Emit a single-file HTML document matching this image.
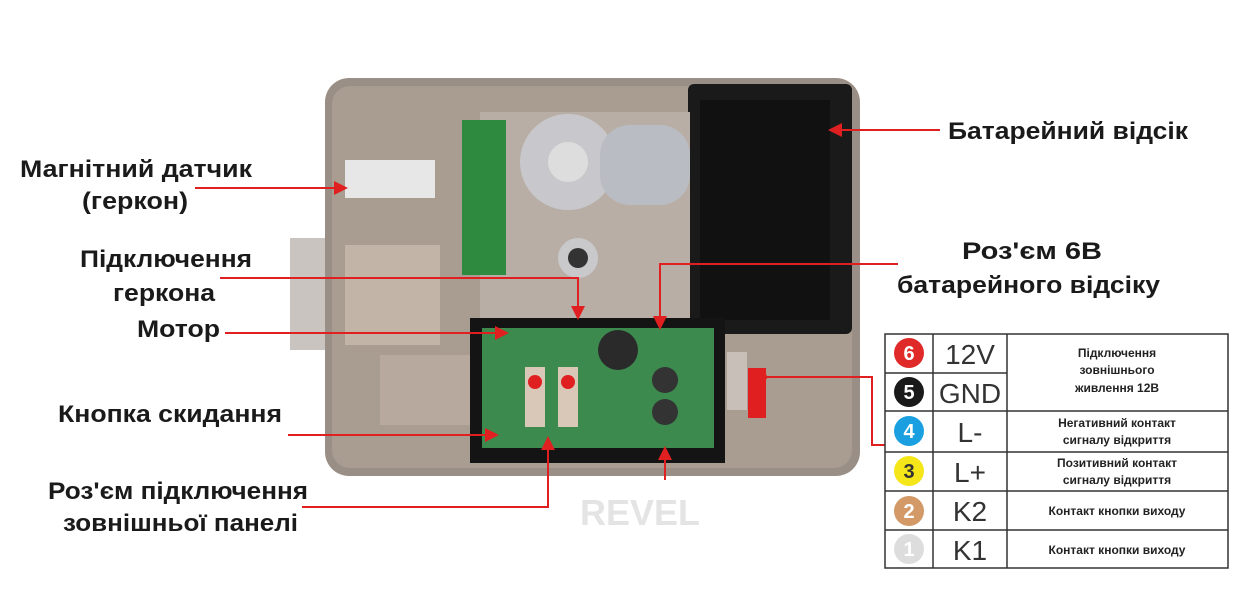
<!DOCTYPE html>
<html><head><meta charset="utf-8"><style>
html,body{margin:0;padding:0;background:#fff;}
svg{display:block;}
.l{font-family:"Liberation Sans",sans-serif;font-weight:bold;font-size:24px;fill:#1a1a1a;}
.t{font-family:"Liberation Sans",sans-serif;font-size:12px;font-weight:bold;fill:#222;}
.b{font-family:"Liberation Sans",sans-serif;font-size:28px;fill:#333;}
.n{font-family:"Liberation Sans",sans-serif;font-size:20px;font-weight:bold;fill:#fff;}
</style></head><body>
<svg width="1251" height="609" viewBox="0 0 1251 609" xmlns="http://www.w3.org/2000/svg">
<defs><marker id="a2" markerWidth="14" markerHeight="14" refX="10" refY="7" orient="auto" markerUnits="userSpaceOnUse"><path d="M0,0 L14,7 L0,14z" fill="#e02020"/></marker></defs>
<rect x="290" y="238" width="44" height="112" fill="#c9c4bf"/>
<rect x="325" y="78" width="535" height="398" rx="24" fill="#9a8f86"/>
<rect x="332" y="86" width="520" height="382" rx="18" fill="#a99d92"/>
<rect x="688" y="84" width="164" height="250" rx="6" fill="#1a1a1a"/>
<rect x="700" y="100" width="130" height="220" fill="#111"/>
<rect x="480" y="112" width="210" height="210" fill="#b8aea5"/>
<circle cx="568" cy="162" r="48" fill="#c8c8cc"/>
<rect x="600" y="125" width="90" height="80" rx="30" fill="#b9bcc2"/>
<circle cx="568" cy="162" r="20" fill="#ddd"/>
<circle cx="578" cy="258" r="20" fill="#c9c9cc"/><circle cx="578" cy="258" r="10" fill="#333"/>
<rect x="462" y="120" width="44" height="155" fill="#2e8a3e"/>
<rect x="345" y="160" width="90" height="38" fill="#e7e7e7"/>
<rect x="345" y="245" width="95" height="100" fill="#c3b4a8"/>
<rect x="380" y="355" width="90" height="70" fill="#b7a99d"/>
<rect x="470" y="318" width="255" height="145" fill="#141414"/>
<rect x="482" y="328" width="232" height="120" fill="#3c8a4e"/>
<circle cx="618" cy="350" r="20" fill="#2a2a2a"/>
<circle cx="665" cy="380" r="13" fill="#333"/><circle cx="665" cy="412" r="13" fill="#333"/>
<rect x="525" y="367" width="20" height="60" fill="#d9c7b8"/><rect x="558" y="367" width="20" height="60" fill="#d9c7b8"/>
<circle cx="535" cy="382" r="7" fill="#e02020"/><circle cx="568" cy="382" r="7" fill="#e02020"/>
<rect x="748" y="368" width="18" height="50" fill="#e02020"/>
<rect x="727" y="352" width="20" height="58" fill="#c8c0b8"/>
<g stroke="#e02020" stroke-width="2" fill="none">
<line x1="195" y1="188" x2="344" y2="188" marker-end="url(#a2)"/>
<polyline points="220,278 578,278 578,316" marker-end="url(#a2)"/>
<line x1="225" y1="333" x2="505" y2="333" marker-end="url(#a2)"/>
<line x1="288" y1="435" x2="495" y2="435" marker-end="url(#a2)"/>
<polyline points="302,507 548,507 548,440" marker-end="url(#a2)"/>
<line x1="940" y1="130" x2="832" y2="130" marker-end="url(#a2)"/>
<polyline points="898,264 660,264 660,326" marker-end="url(#a2)"/>
<line x1="665" y1="480" x2="665" y2="450" marker-end="url(#a2)"/>
<polyline points="885,445 872,445 872,377 762,377"/>
</g>
<circle cx="762" cy="377" r="5" fill="#e02020"/>
<text class="l" x="20" y="177" textLength="232" lengthAdjust="spacingAndGlyphs">Магнітний датчик</text>
<text class="l" x="82" y="209" textLength="106" lengthAdjust="spacingAndGlyphs">(геркон)</text>
<text class="l" x="80" y="267" textLength="172" lengthAdjust="spacingAndGlyphs">Підключення</text>
<text class="l" x="113" y="301" textLength="102" lengthAdjust="spacingAndGlyphs">геркона</text>
<text class="l" x="137" y="337" textLength="83" lengthAdjust="spacingAndGlyphs">Мотор</text>
<text class="l" x="58" y="422" textLength="224" lengthAdjust="spacingAndGlyphs">Кнопка скидання</text>
<text class="l" x="48" y="499" textLength="260" lengthAdjust="spacingAndGlyphs">Роз'єм підключення</text>
<text class="l" x="63" y="531" textLength="235" lengthAdjust="spacingAndGlyphs">зовнішньої панелі</text>
<text class="l" x="948" y="139" textLength="240" lengthAdjust="spacingAndGlyphs">Батарейний відсік</text>
<text class="l" x="962" y="259" textLength="140" lengthAdjust="spacingAndGlyphs">Роз'єм 6В</text>
<text class="l" x="897" y="293" textLength="263" lengthAdjust="spacingAndGlyphs">батарейного відсіку</text>
<text x="580" y="525" font-family="Liberation Sans,sans-serif" font-size="36" font-weight="bold" fill="#e4e4e4">REVEL</text>
<g stroke="#333" stroke-width="1.5" fill="none">
<rect x="885" y="334" width="343" height="234"/>
<line x1="933" y1="334" x2="933" y2="568"/><line x1="1007" y1="334" x2="1007" y2="568"/>
<line x1="885" y1="373" x2="1007" y2="373"/>
<line x1="885" y1="411" x2="1228" y2="411"/><line x1="885" y1="452" x2="1228" y2="452"/>
<line x1="885" y1="491" x2="1228" y2="491"/><line x1="885" y1="530" x2="1228" y2="530"/>
</g>
<circle cx="909" cy="353" r="15" fill="#e02a2a"/><text class="n" x="909" y="360" text-anchor="middle">6</text>
<circle cx="909" cy="392" r="15" fill="#1a1a1a"/><text class="n" x="909" y="399" text-anchor="middle">5</text>
<circle cx="909" cy="431" r="15" fill="#1aa0e0"/><text class="n" x="909" y="438" text-anchor="middle">4</text>
<circle cx="909" cy="471" r="15" fill="#f5e61a"/><text class="n" x="909" y="478" text-anchor="middle" style="fill:#333">3</text>
<circle cx="909" cy="511" r="15" fill="#d39a68"/><text class="n" x="909" y="518" text-anchor="middle">2</text>
<circle cx="909" cy="549" r="15" fill="#dddddd"/><text class="n" x="909" y="556" text-anchor="middle">1</text>
<text class="b" x="970" y="364" text-anchor="middle">12V</text>
<text class="b" x="970" y="403" text-anchor="middle">GND</text>
<text class="b" x="970" y="442" text-anchor="middle">L-</text>
<text class="b" x="970" y="482" text-anchor="middle">L+</text>
<text class="b" x="970" y="521" text-anchor="middle">K2</text>
<text class="b" x="970" y="560" text-anchor="middle">K1</text>
<text class="t" x="1117" y="357" text-anchor="middle">Підключення</text>
<text class="t" x="1117" y="374" text-anchor="middle">зовнішнього</text>
<text class="t" x="1117" y="392" text-anchor="middle">живлення 12В</text>
<text class="t" x="1117" y="427" text-anchor="middle">Негативний контакт</text>
<text class="t" x="1117" y="444" text-anchor="middle">сигналу відкриття</text>
<text class="t" x="1117" y="467" text-anchor="middle">Позитивний контакт</text>
<text class="t" x="1117" y="484" text-anchor="middle">сигналу відкриття</text>
<text class="t" x="1117" y="515" text-anchor="middle">Контакт кнопки виходу</text>
<text class="t" x="1117" y="554" text-anchor="middle">Контакт кнопки виходу</text>
</svg>
</body></html>
